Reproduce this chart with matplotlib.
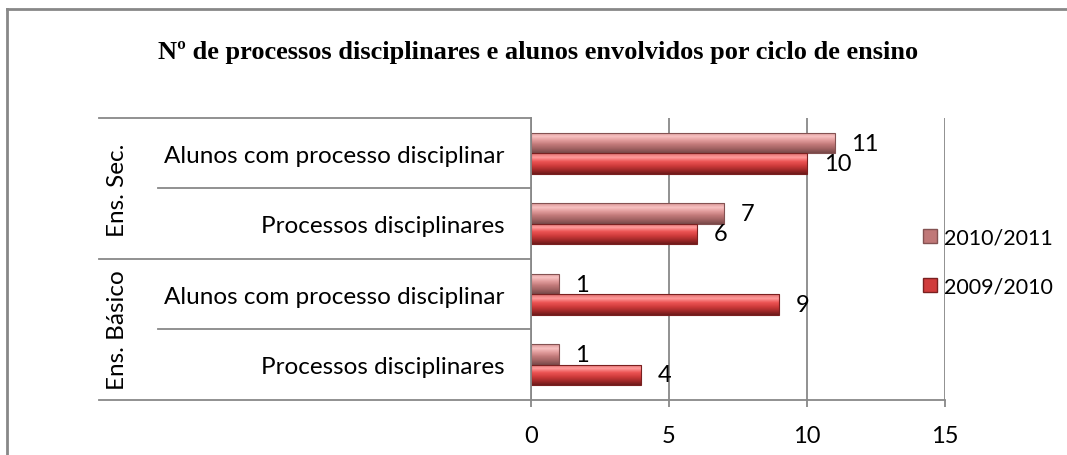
import numpy as np
import matplotlib.pyplot as plt
from matplotlib.lines import Line2D
from matplotlib.patches import Patch
from matplotlib.colors import LinearSegmentedColormap

# dados (de baixo para cima)
categorias = ['Processos disciplinares', 'Alunos com processo disciplinar',
              'Processos disciplinares', 'Alunos com processo disciplinar']
grupos = ['Ens. Básico', 'Ens. Sec.']
series = ['2010/2011', '2009/2010']
v_2010_2011 = [1, 1, 7, 11]
v_2009_2010 = [4, 9, 6, 10]
x_ticks = [0, 5, 10, 15]

W, H = 1067, 456
fx = lambda px: px / W
fy = lambda py: 1 - py / H

plt.rcParams['font.family'] = ['Lato', 'DejaVu Sans']
fig = plt.figure(figsize=(W / 100, H / 100), dpi=100)
ax = fig.add_axes([fx(531), fy(401), fx(945) - fx(531), fy(119) - fy(401)])

h = 0.29
y = list(range(len(categorias)))
y_top = [i + h / 2 for i in y]
y_bot = [i - h / 2 for i in y]

# gradientes (de cima para baixo)
grad_a = ['#d89494', '#f8c2c2', '#e09a9a', '#c07878', '#a06262', '#784848']
grad_b = ['#e06a6a', '#ff9c9c', '#ec5454', '#d03c3c', '#a42a2a', '#6e1a1a']
cmap_a = LinearSegmentedColormap.from_list('a', grad_a[::-1])
cmap_b = LinearSegmentedColormap.from_list('b', grad_b[::-1])
grad = np.linspace(0, 1, 64).reshape(-1, 1)


def barra(yy, vals, cmap, edge):
    c = ax.barh(yy, vals, height=h, color='none', edgecolor=edge, linewidth=0.8, zorder=4)
    for p in c.patches:
        x0, y0 = p.get_x(), p.get_y()
        im = ax.imshow(grad, cmap=cmap, aspect='auto', origin='lower', zorder=3,
                       extent=(x0, x0 + p.get_width(), y0, y0 + p.get_height()))
        im.set_clip_path(p)
    return c


ca = barra(y_top, v_2010_2011, cmap_a, '#845252')
cb = barra(y_bot, v_2009_2010, cmap_b, '#7a2020')
ax.bar_label(ca, padding=12, fontsize=17, zorder=6)
ax.bar_label(cb, padding=12, fontsize=17, zorder=6)

ax.set_xlim(0, 15)
ax.set_ylim(-0.5, 3.5)
ax.set_xticks(x_ticks)
ax.set_xticklabels([str(t) for t in x_ticks], fontsize=17)
ax.set_yticks(y)
ax.set_yticklabels(categorias, fontsize=17.5)
ax.tick_params(axis='y', length=0, pad=19)
ax.tick_params(axis='x', length=5, color='#888888', width=1.3, pad=13)
ax.xaxis.grid(True, color='#888888', linewidth=1.3, zorder=0)
ax.set_axisbelow(True)
for s in ['top', 'right']:
    ax.spines[s].set_visible(False)
for s in ['left', 'bottom']:
    ax.spines[s].set_color('#888888')
    ax.spines[s].set_linewidth(1.3)
    ax.spines[s].set_zorder(5)

# linhas da tabela de categorias
def hline(x0, x1, py):
    fig.add_artist(Line2D([fx(x0), fx(x1)], [fy(py), fy(py)], color='#888888', lw=1.3))

hline(99, 531, 119)
hline(158, 531, 189)
hline(99, 531, 260)
hline(158, 531, 330)
hline(99, 531, 401)

fig.text(fx(118), fy(190), grupos[1], rotation=90, ha='center', va='center', fontsize=17.5)
fig.text(fx(118), fy(330), grupos[0], rotation=90, ha='center', va='center', fontsize=17.5)

fig.text(fx(538), fy(53), 'Nº de processos disciplinares e alunos envolvidos por ciclo de ensino',
         family='Liberation Serif', fontweight='bold', fontsize=19, ha='center', va='center')

handles = [Patch(facecolor='#c07878', edgecolor='#845252'), Patch(facecolor='#d03c3c', edgecolor='#7a2020')]
fig.legend(handles, series, loc='center left', bbox_to_anchor=(fx(904), fy(263)),
           frameon=False, fontsize=15.5, handlelength=0.65, handleheight=0.65,
           handletextpad=0.3, labelspacing=1.35)

# moldura
fig.add_artist(Line2D([fx(7), fx(7)], [fy(10), 0], color='#888888', lw=2))
fig.add_artist(Line2D([fx(7), 1], [fy(10), fy(10)], color='#888888', lw=2))

fig.savefig('out.png', dpi=100)
